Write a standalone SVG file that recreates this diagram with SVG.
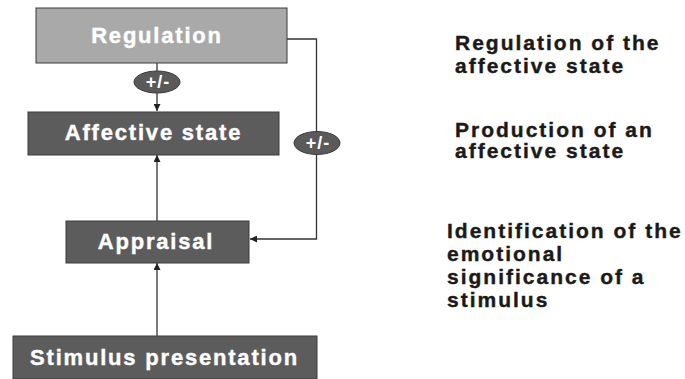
<svg xmlns="http://www.w3.org/2000/svg" width="685" height="379" viewBox="0 0 685 379">
<style>
.box{stroke:#3a3a3a;stroke-width:1}
.dark{fill:#5c5c5c}
.light{fill:#a9a9a9}
.bt{font-family:"Liberation Sans",Arial,sans-serif;font-weight:bold;font-size:22px;fill:#ffffff;stroke:#ffffff;stroke-width:0.4px;text-anchor:middle;letter-spacing:1.8px}
.pm{font-family:"Liberation Sans",Arial,sans-serif;font-weight:bold;font-size:18px;fill:#ffffff;text-anchor:middle;letter-spacing:1px}
.side{font-family:"Liberation Sans",Arial,sans-serif;font-weight:bold;font-size:21px;fill:#1a1a1a;stroke:#1a1a1a;stroke-width:0.4px;letter-spacing:2px}
.line{fill:none;stroke:#333;stroke-width:1.3}
.ell{fill:#5a5a5a;stroke:#3a3a3a;stroke-width:1}
</style>
<defs>
<marker id="ah" viewBox="0 0 10 10" refX="10" refY="5" markerWidth="7" markerHeight="7" markerUnits="userSpaceOnUse" orient="auto">
<path d="M0,0 L10,5 L0,10 z" fill="#222"/>
</marker>
</defs>
<rect width="685" height="379" fill="#ffffff"/>
<g id="connectors">
<line class="line" x1="157" y1="63" x2="157" y2="111" marker-end="url(#ah)"/>
<line class="line" x1="157" y1="221" x2="157" y2="155" marker-end="url(#ah)"/>
<line class="line" x1="157" y1="336" x2="157" y2="263" marker-end="url(#ah)"/>
<polyline class="line" points="287,39 316.5,39 316.5,239 250,239" marker-end="url(#ah)"/>
</g>
<g id="regulation">
<rect class="box light" x="36" y="8" width="251" height="55"/>
<text class="bt" x="157" y="43">Regulation</text>
</g>
<g id="pm1">
<ellipse class="ell" cx="157" cy="82" rx="23" ry="11"/>
<text class="pm" x="158" y="88">+/-</text>
</g>
<g id="affective">
<rect class="box dark" x="28" y="112" width="251" height="43"/>
<text class="bt" x="153.5" y="140">Affective state</text>
</g>
<g id="pm2">
<ellipse class="ell" cx="317" cy="143" rx="23" ry="11.5"/>
<text class="pm" x="318" y="149">+/-</text>
</g>
<g id="appraisal">
<rect class="box dark" x="66" y="221" width="183" height="42"/>
<text class="bt" x="156" y="249">Appraisal</text>
</g>
<g id="stimulus">
<rect class="box dark" x="13" y="336" width="304" height="43"/>
<text class="bt" x="164.5" y="365">Stimulus presentation</text>
</g>
<g id="labels">
<text class="side" x="455" y="50">Regulation of the</text>
<text class="side" x="455" y="73">affective state</text>
<text class="side" x="455" y="137">Production of an</text>
<text class="side" x="455" y="158">affective state</text>
<text class="side" x="447" y="238">Identification of the</text>
<text class="side" x="447" y="261">emotional</text>
<text class="side" x="447" y="284">significance of a</text>
<text class="side" x="447" y="307">stimulus</text>
</g>
</svg>
